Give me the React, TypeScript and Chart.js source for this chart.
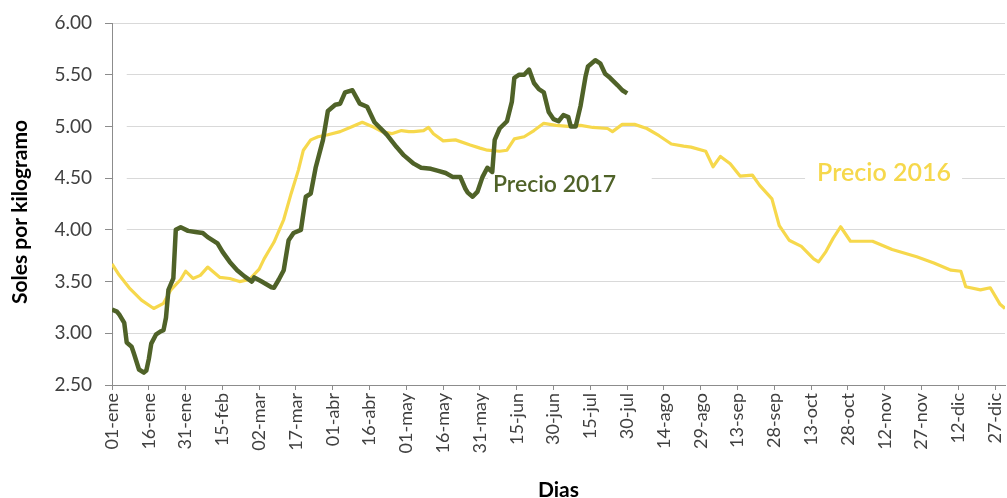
import React, { useEffect, useRef } from "react";
import { Chart, registerables } from "chart.js";

Chart.register(...registerables);

// ---- Data ----
const tickLabels = [
  "01-ene", "16-ene", "31-ene", "15-feb", "02-mar", "17-mar", "01-abr", "16-abr",
  "01-may", "16-may", "31-may", "15-jun", "30-jun", "15-jul", "30-jul", "14-ago",
  "29-ago", "13-sep", "28-sep", "13-oct", "28-oct", "12-nov", "27-nov", "12-dic", "27-dic",
];

// day of year (0 = 01-ene) and price, Precio 2016
const days2016 = [
  0, 3, 7, 12, 17, 21, 24, 28, 30, 33, 36, 39, 41, 44, 48, 52, 56, 60, 62, 64, 66, 70, 73, 76,
  78, 81, 84, 88, 93, 98, 102, 106, 110, 114, 118, 121, 123, 127, 129, 131, 135, 140, 146, 150,
  153, 158, 161, 164, 168, 172, 176, 181, 186, 191, 196, 202, 204, 208, 213, 218, 223, 228, 233,
  236, 242, 245, 248, 252, 256, 261, 264, 269, 272, 276, 281, 286, 288, 291, 294, 297, 301, 310,
  318, 328, 335, 342, 346, 348, 354, 358, 362, 364,
];
const price2016 = [
  3.67, 3.56, 3.44, 3.32, 3.24, 3.29, 3.42, 3.52, 3.6, 3.53, 3.56, 3.64, 3.6, 3.54, 3.53, 3.5,
  3.52, 3.62, 3.72, 3.8, 3.88, 4.1, 4.35, 4.58, 4.77, 4.87, 4.9, 4.92, 4.95, 5.0, 5.04, 5.0,
  4.95, 4.93, 4.96, 4.95, 4.95, 4.96, 4.99, 4.93, 4.86, 4.87, 4.82, 4.79, 4.77, 4.76, 4.77, 4.88,
  4.9, 4.96, 5.03, 5.01, 5.0, 5.01, 4.99, 4.98, 4.95, 5.02, 5.02, 4.98, 4.91, 4.83, 4.81, 4.8,
  4.76, 4.61, 4.71, 4.64, 4.52, 4.53, 4.43, 4.3, 4.04, 3.9, 3.84, 3.72, 3.69, 3.79, 3.92, 4.03,
  3.89, 3.89, 3.81, 3.74, 3.68, 3.61, 3.6, 3.45, 3.42, 3.44, 3.28, 3.24,
];

// day of year and price, Precio 2017
const days2017 = [
  0, 2, 3, 5, 6, 8, 9, 11, 13, 14, 15, 16, 18, 20, 21, 22, 23, 25, 26, 28, 31, 34, 37, 39, 43,
  45, 48, 51, 54, 57, 58, 61, 65, 66, 68, 70, 72, 74, 77, 79, 81, 83, 86, 88, 91, 93, 95, 98,
  101, 104, 107, 112, 116, 119, 123, 126, 130, 133, 136, 139, 142, 144, 145, 147, 149, 151, 153,
  155, 156, 158, 161, 163, 164, 166, 168, 170, 172, 174, 176, 178, 180, 182, 184, 186, 187, 189,
  191, 193, 194, 197, 199, 201, 203, 206, 208, 210,
];
const price2017 = [
  3.23, 3.21, 3.18, 3.1, 2.91, 2.87, 2.8, 2.65, 2.62, 2.64, 2.75, 2.9, 2.99, 3.02, 3.03, 3.15,
  3.42, 3.53, 4.0, 4.025, 3.99, 3.98, 3.97, 3.93, 3.87, 3.79, 3.69, 3.61, 3.55, 3.5, 3.54, 3.5,
  3.445, 3.44, 3.52, 3.61, 3.9, 3.97, 4.0, 4.32, 4.35, 4.6, 4.87, 5.15, 5.21, 5.22, 5.33, 5.35,
  5.22, 5.19, 5.04, 4.92, 4.8, 4.72, 4.64, 4.6, 4.59, 4.57, 4.55, 4.51, 4.51, 4.4, 4.36, 4.32,
  4.37, 4.51, 4.6, 4.56, 4.87, 4.98, 5.05, 5.24, 5.47, 5.5, 5.5, 5.55, 5.42, 5.36, 5.33, 5.14,
  5.07, 5.05, 5.11, 5.09, 5.0, 5.0, 5.2, 5.48, 5.58, 5.64, 5.61, 5.51, 5.47, 5.4, 5.35, 5.32,
];

const seriesNames = ["Precio 2017", "Precio 2016"];
const xTitle = "Dias";
const yTitle = "Soles por kilogramo";

// ---- Styles ----
const COLOR_2017 = "#4F6228";
const COLOR_2016 = "#F6D84C";
const FONT = "Lato, 'Open Sans', sans-serif";
const TEXT = "#404040";
const AXIS = "#8c8c8c";
const TICK_STEP_DAYS = 15;

// annotation placements in data units (day, price)
const labelPlacements = [
  { text: seriesNames[0], day: 155.3, value: 4.37, size: 23, color: COLOR_2017 },
  { text: seriesNames[1], day: 287.4, value: 4.47, size: 25, color: COLOR_2016 },
];
const whiteBoxes = [
  { d0: 153.3, d1: 220, v0: 4.2, v1: 4.92 },
  { d0: 282.5, d1: 346.5, v0: 4.29, v1: 4.77 },
  { d0: 0.5, d1: 6, v0: 2.95, v1: 5.8 },
];

const overlayPlugin = {
  id: "overlay",
  beforeDatasetsDraw(chart: any) {
    const { ctx, scales } = chart;
    const x = scales.x, y = scales.y;
    ctx.save();
    ctx.fillStyle = "#ffffff";
    whiteBoxes.forEach((b) => {
      const x0 = x.getPixelForValue(b.d0), x1 = x.getPixelForValue(b.d1);
      const y0 = y.getPixelForValue(b.v1), y1 = y.getPixelForValue(b.v0);
      ctx.fillRect(x0, y0, x1 - x0, y1 - y0);
    });
    ctx.restore();
  },
  afterDatasetsDraw(chart: any) {
    const { ctx, scales, chartArea } = chart;
    const x = scales.x, y = scales.y;
    ctx.save();
    labelPlacements.forEach((l) => {
      ctx.font = `600 ${l.size}px ${FONT}`;
      ctx.fillStyle = l.color;
      ctx.textAlign = "left";
      ctx.textBaseline = "alphabetic";
      ctx.fillText(l.text, x.getPixelForValue(l.day), y.getPixelForValue(l.value));
    });
    // axis titles
    ctx.fillStyle = "#000000";
    ctx.font = `bold 21px ${FONT}`;
    ctx.textAlign = "center";
    ctx.textBaseline = "middle";
    ctx.fillText(xTitle, (chartArea.left + chartArea.right) / 2, 490);
    ctx.translate(20, (chartArea.top + chartArea.bottom) / 2 + 8);
    ctx.rotate(-Math.PI / 2);
    ctx.fillText(yTitle, 0, 0);
    ctx.restore();
  },
};

export default function App() {
  const canvasRef = useRef<HTMLCanvasElement | null>(null);

  useEffect(() => {
    if (!canvasRef.current) return;
    const chart = new Chart(canvasRef.current, {
      type: "line",
      data: {
        datasets: [
          {
            label: seriesNames[0],
            data: days2017.map((d, i) => ({ x: d, y: price2017[i] })),
            borderColor: COLOR_2017,
            borderWidth: 4.5,
            pointRadius: 0,
            tension: 0,
            borderJoinStyle: "round",
          },
          {
            label: seriesNames[1],
            data: days2016.map((d, i) => ({ x: d, y: price2016[i] })),
            borderColor: COLOR_2016,
            borderWidth: 3.2,
            pointRadius: 0,
            tension: 0,
            borderJoinStyle: "round",
          },
        ],
      },
      options: {
        responsive: false,
        animation: false,
        devicePixelRatio: 1,
        layout: { padding: { top: 23, right: 2, left: 0, bottom: 0 } },
        plugins: { legend: { display: false }, tooltip: { enabled: false } },
        scales: {
          x: {
            type: "linear",
            min: 0,
            max: 364,
            afterBuildTicks: (s: any) => {
              s.ticks = tickLabels.map((_, i) => ({ value: i * TICK_STEP_DAYS }));
            },
            afterFit: (s: any) => {
              s.height = 113;
              s.paddingLeft = 0;
              s.paddingRight = 0;
            },
            ticks: {
              autoSkip: false,
              minRotation: 90,
              maxRotation: 90,
              padding: 3,
              color: TEXT,
              font: { family: FONT, size: 18 },
              callback: (v: any) => tickLabels[Math.round(v / TICK_STEP_DAYS)] ?? null,
            },
            grid: { drawOnChartArea: false, drawTicks: true, tickLength: 5, color: AXIS },
            border: { display: true, color: AXIS },
          },
          y: {
            min: 2.5,
            max: 6,
            afterFit: (s: any) => {
              s.width = 112;
              s.paddingTop = 0;
              s.paddingBottom = 0;
            },
            ticks: {
              stepSize: 0.5,
              padding: 13,
              color: TEXT,
              font: { family: FONT, size: 19 },
              callback: (v: any) => Number(v).toFixed(2),
            },
            grid: { color: "#d9d9d9", tickColor: AXIS, tickLength: 7 },
            border: { display: true, color: AXIS },
          },
        },
      },
      plugins: [overlayPlugin],
    } as any);
    return () => chart.destroy();
  }, []);

  return (
    <div style={{ position: "absolute", left: 0, top: 0, width: 1007, height: 498, background: "#fff" }}>
      <canvas ref={canvasRef} width={1007} height={498} />
    </div>
  );
}
